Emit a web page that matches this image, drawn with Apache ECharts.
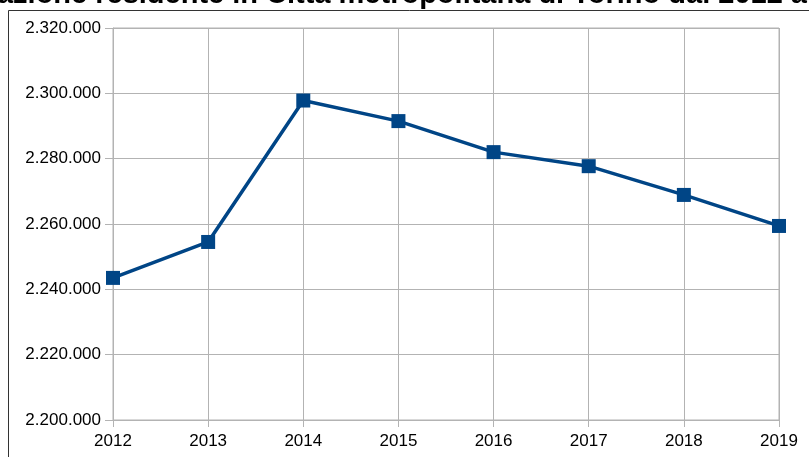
<!DOCTYPE html>
<html>
<head>
<meta charset="utf-8">
<script src="https://cdn.jsdelivr.net/npm/echarts@6/dist/echarts.min.js"></script>
<style>
  html, body { margin: 0; padding: 0; background: #fff; }
  #chart { width: 809px; height: 457px; }
</style>
</head>
<body>
<div id="chart"></div>
<script>
var years = ['2012', '2013', '2014', '2015', '2016', '2017', '2018', '2019'];
var population = [2243500, 2254500, 2297800, 2291500, 2282000, 2277700, 2268900, 2259400];
var chartTitle = 'Popolazione residente in Città metropolitana di Torino dal 2012 al 2019';

// formato italiano con il punto come separatore delle migliaia
function fmt(v) {
	return String(v).replace(/\B(?=(\d{3})+(?!\d))/g, '.');
}

var myChart = echarts.init(document.getElementById('chart'));
myChart.setOption({
	animation: false,
	textStyle: { fontFamily: 'Liberation Sans' },
	graphic: [{
		// titolo più largo della finestra: posizionato a mano
		type: 'text',
		x: 402,
		y: 9,
		style: {
			text: chartTitle,
			align: 'center',
			verticalAlign: 'bottom',
			font: 'bold 29px "Liberation Sans"',
			fill: '#000'
		},
		silent: true
	}, {
		type: 'polyline',
		shape: { points: [[8.5, 470], [8.5, 10.5], [820, 10.5]] },
		style: { stroke: '#333', lineWidth: 1, fill: null },
		silent: true
	}],
	grid: { left: 113, right: 30, top: 28, bottom: 37, show: true, borderColor: '#b3b3b3', borderWidth: 1 },
	xAxis: {
		type: 'category',
		data: years,
		boundaryGap: false,
		axisLine: { lineStyle: { color: '#b3b3b3' } },
		axisTick: { show: true, length: 7, lineStyle: { color: '#b3b3b3' } },
		axisLabel: { color: '#000', fontSize: 17, margin: 13 },
		splitLine: { show: true, lineStyle: { color: '#b3b3b3' } }
	},
	yAxis: {
		type: 'value',
		min: 2200000,
		max: 2320000,
		interval: 20000,
		axisLine: { show: true, lineStyle: { color: '#b3b3b3' } },
		axisTick: { show: true, length: 8, lineStyle: { color: '#b3b3b3' } },
		axisLabel: { color: '#000', fontSize: 17, margin: 12, formatter: fmt },
		splitLine: { lineStyle: { color: '#b3b3b3' } }
	},
	series: [{
		type: 'line',
		data: population,
		symbol: 'rect',
		symbolSize: 14,
		lineStyle: { color: '#004586', width: 3.5 },
		itemStyle: { color: '#004586' }
	}]
});
</script>
</body>
</html>
